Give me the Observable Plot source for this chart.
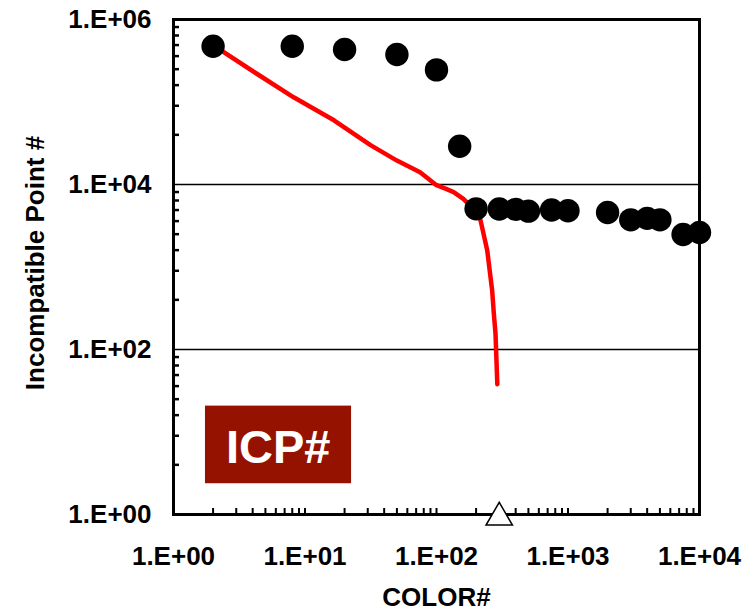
<!DOCTYPE html>
<html>
<head>
<meta charset="utf-8">
<script src="https://cdn.jsdelivr.net/npm/d3@7"></script>
<script src="https://cdn.jsdelivr.net/npm/@observablehq/plot@0.6"></script>
<style>
  html, body { margin: 0; padding: 0; background: #fff; }
  #chart { width: 755px; height: 611px; }
</style>
</head>
<body>
<div id="chart"></div>
<script>
// ---- data ----
const colorCounts = [2, 8, 20, 50, 100, 150, 200, 300, 400, 500, 750, 1000, 2000, 3000, 4000, 5000, 7500, 10000];
const icpValues   = [4.74e5, 4.74e5, 4.33e5, 3.77e5, 2.45e5, 2.91e4, 5.07e3, 5.05e3, 5.0e3, 4.75e3, 4.9e3, 4.8e3, 4.58e3, 3.73e3, 3.89e3, 3.73e3, 2.48e3, 2.62e3];

const curveColor = [2, 4.3, 8.2, 16.6, 31.5, 50, 75, 100, 117, 135, 160, 198, 216, 243, 265, 273, 281, 290];
const curveIcp   = [4.9e5, 2.2e5, 1.14e5, 6.0e4, 3.0e4, 1.95e4, 1.41e4, 9.8e3, 8.9e3, 8.1e3, 6.7e3, 4.8e3, 3.7e3, 1.6e3, 520, 270, 156, 38];

const markerColor = [300];
const markerIcp = [1];

const xTickValues = [1, 10, 100, 1000, 10000];
const xTickLabels = ["1.E+00", "1.E+01", "1.E+02", "1.E+03", "1.E+04"];
const yTickValues = [1, 100, 10000, 1000000];
const yTickLabels = ["1.E+00", "1.E+02", "1.E+04", "1.E+06"];
const gridValues = [100, 10000];

const xLabel = "COLOR#";
const yLabel = "Incompatible Point #";
const badgeText = "ICP#";
// badge box (data coordinates of the annotation)
const badgeX = [1.75, 22.6];
const badgeY = [2.36, 20.6];
const badgeCenter = [6.25, 6.48];

// minor tick positions
const xMinor = [];
for (let m = 0; m < 4; m++) for (let k = 1; k <= 9; k++) xMinor.push(k * 10 ** m);
xMinor.push(10000);
const yMinor = [];
for (let m = 0; m < 3; m++) for (let k = 2; k <= 9; k++) yMinor.push(k * k * 100 ** m);

const points = colorCounts.map((c, i) => ({c, v: icpValues[i]}));
const curve = curveColor.map((c, i) => ({c, v: curveIcp[i]}));
const marker = markerColor.map((c, i) => ({c, v: markerIcp[i]}));

const font = "'Liberation Sans', Arial, sans-serif";

const chart = Plot.plot({
  width: 755,
  height: 611,
  marginLeft: 173,
  marginRight: 56,
  marginTop: 19,
  marginBottom: 97,
  style: {fontFamily: font, background: "#fff", color: "#000", overflow: "visible"},
  x: {type: "log", domain: [1, 10000]},
  y: {type: "log", domain: [1, 1000000]},
  marks: [
    Plot.ruleY(gridValues, {y: d => d, stroke: "#000", strokeWidth: 1.3}),
    Plot.line(curve, {x: "c", y: "v", stroke: "#ff0000", strokeWidth: 4.5, strokeLinejoin: "round"}),
    Plot.dot(points, {x: "c", y: "v", r: 11.7, fill: "#000", stroke: "none"}),
    // minor ticks pointing inward
    Plot.ruleX(xMinor, {x: d => d, y1: 1, y2: 1, insetBottom: 6, stroke: "#000", strokeWidth: 2}),
    Plot.ruleY(yMinor, {y: d => d, x1: 1, x2: 1, insetRight: -6, stroke: "#000", strokeWidth: 2.5}),
    Plot.frame({stroke: "#000", strokeWidth: 3}),
    Plot.axisX({
      ticks: xTickValues, tickSize: 0, tickPadding: 32,
      tickFormat: d => xTickLabels[xTickValues.indexOf(d)],
      fontSize: 26, fontWeight: "bold", label: null
    }),
    Plot.axisY({
      ticks: yTickValues, tickSize: 0, tickPadding: 22,
      tickFormat: d => yTickLabels[yTickValues.indexOf(d)],
      fontSize: 26, fontWeight: "bold", label: null
    }),
    Plot.text([xLabel], {text: d => d, frameAnchor: "bottom", lineAnchor: "bottom", dy: 91, fontSize: 26, fontWeight: "bold", fill: "#000"}),
    Plot.text([yLabel], {text: d => d, frameAnchor: "left", textAnchor: "middle", rotate: -90, dx: -138, dy: -4, fontSize: 26, fontWeight: "bold", fill: "#000"}),
    Plot.dot(marker, {x: "c", y: "v", symbol: "triangle", r: 9.8, fill: "#fff", stroke: "#000", strokeWidth: 1.5, dy: 3}),
    Plot.rect([0], {x1: () => badgeX[0], x2: () => badgeX[1], y1: () => badgeY[0], y2: () => badgeY[1], fill: "#961200"}),
    Plot.text([badgeText], {x: () => badgeCenter[0], y: () => badgeCenter[1], text: d => d, fill: "#fff", fontSize: 47, fontWeight: "bold"})
  ]
});
document.getElementById("chart").appendChild(chart);
</script>
</body>
</html>
